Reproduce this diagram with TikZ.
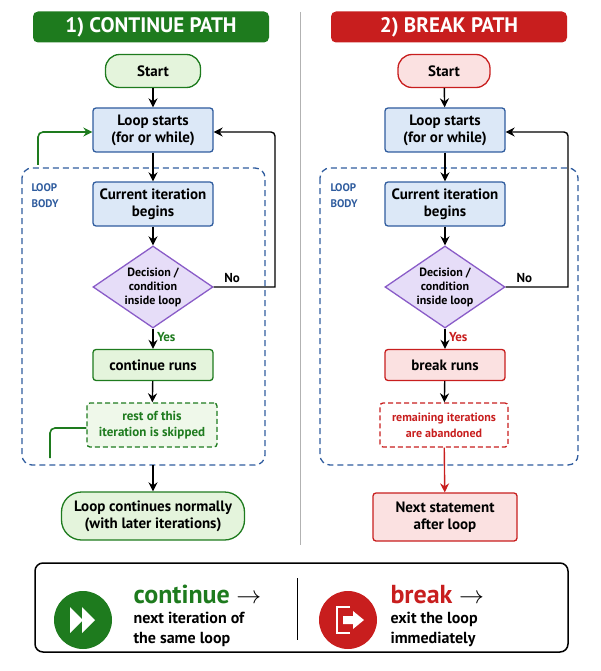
\documentclass[tikz,border=0pt]{standalone}
\usepackage{fontspec}
\setmainfont{PT Sans}
\usetikzlibrary{shapes.geometric,arrows.meta}
\definecolor{cgreen}{HTML}{1E7B1E}
\definecolor{lgreen}{HTML}{E4F4DC}
\definecolor{cred}{HTML}{C81E1E}
\definecolor{lred}{HTML}{FBE1E1}
\definecolor{cblue}{HTML}{2F5C9E}
\definecolor{lblue}{HTML}{DCE8F7}
\definecolor{lpurple}{HTML}{E6DDF8}
\definecolor{cpurple}{HTML}{8A5CC8}
\tikzset{
    % boxes of the two flowcharts
    flow box/.style={rectangle,rounded corners=3,draw,line width=1.3pt,align=center,font=\bfseries\fontsize{15}{17}\selectfont,minimum width=120,minimum height=44,inner sep=1},
    blue box/.style={flow box,draw=cblue,fill=lblue},
    start green/.style={flow box,draw=cgreen,fill=lgreen,rounded corners=14,minimum width=95,minimum height=33},
    start red/.style={flow box,draw=cred,fill=lred,rounded corners=14,minimum width=92,minimum height=33},
    decision/.style={diamond,aspect=1.45,draw=cpurple,fill=lpurple,line width=1.3pt,align=center,font=\bfseries\fontsize{12}{14}\selectfont,minimum width=120,minimum height=82,inner sep=0},
    title/.style={rounded corners=5,text=white,font=\bfseries\fontsize{21}{24}\selectfont,minimum width=236,minimum height=31},
    flow/.style={-{Stealth[length=9,width=9]},line width=1.4pt},
    body/.style={draw=cblue,dash pattern=on 6pt off 4pt,line width=1.3pt,rounded corners=10},
    dashed box/.style={dash pattern=on 5pt off 3pt}
    }
\begin{document}
\begin{tikzpicture}[x=1pt,y=-1pt]
    \useasboundingbox (0,0) rectangle (600,671);
    % titles and divider
    \node(t1)[title,fill=cgreen] at (151,27) {1) CONTINUE PATH};
    \node(t2)[title,fill=cred] at (449,27) {2) BREAK PATH};
    \draw[gray!60,line width=1pt] (300,12) -- (300,545);
    % continue path
    \draw[body] (22,168) rectangle (265,465);
    \node[text=cblue,align=left,anchor=north west,font=\bfseries\fontsize{11}{16}\selectfont] at (28,180) {LOOP\\BODY};
    \node(cs)[start green] at (153,71) {Start};
    \node(cl)[blue box] at (153,130) {Loop starts\\(for or while)};
    \node(ci)[blue box] at (153,204) {Current iteration\\begins};
    \node(cd)[decision] at (153,287) {Decision /\\condition\\inside loop};
    \node(cr)[flow box,draw=cgreen,fill=lgreen,minimum height=31] at (153,365) {continue runs};
    \node(ck)[flow box,draw=cgreen,fill=lgreen!60,dashed box,text=cgreen,minimum width=130,font=\bfseries\fontsize{13}{16}\selectfont] at (152,425) {rest of this\\iteration is skipped};
    \node(cn)[flow box,draw=cgreen,fill=lgreen,rounded corners=20,minimum width=183,minimum height=48] at (153,516) {Loop continues normally\\(with later iterations)};
    \coordinate(cb) at (153,465);
    \coordinate(gb) at (50,458);
    \coordinate(gt) at (38,165);
    \draw[flow] (cs) -- (cl);
    \draw[flow] (cl) -- (ci);
    \draw[flow] (ci) -- (cd);
    \draw[flow] (cd) -- node[right,pos=0.4,text=cgreen,font=\bfseries\fontsize{13}{15}\selectfont]{Yes} (cr);
    \draw[flow] (cr) -- (ck);
    \draw[flow] (cd.east) -- node[above,font=\bfseries\fontsize{13}{15}\selectfont,pos=0.3]{No} (275,287) [rounded corners=4]-- (275,132) -- (cl.east|-0,132);
    \draw[cgreen,line width=1.6pt,rounded corners=5] (gb) -- (50,428) -- (ck.west|-0,428);
    \draw[flow,cgreen,line width=1.6pt,rounded corners=5] (gt) -- (38,132) -- (cl.west|-0,132);
    \draw[flow] (cb) -- (cn);
    % break path
    \draw[body] (320,168) rectangle (578,465);
    \node[text=cblue,align=left,anchor=north west,font=\bfseries\fontsize{11}{16}\selectfont] at (327,180) {LOOP\\BODY};
    \node(bs)[start red] at (444,71) {Start};
    \node(bl)[blue box] at (445,130) {Loop starts\\(for or while)};
    \node(bi)[blue box] at (445,204) {Current iteration\\begins};
    \node(bd)[decision] at (445,287) {Decision /\\condition\\inside loop};
    \node(br)[flow box,draw=cred,fill=lred,minimum height=31] at (445,365) {break runs};
    \node(bk)[flow box,draw=cred,fill=white,dashed box,text=cred,minimum width=128,font=\bfseries\fontsize{12}{16}\selectfont] at (444,425) {remaining iterations\\are abandoned};
    \node(bn)[flow box,draw=cred,fill=lred,minimum width=144,minimum height=48] at (445,517) {Next statement\\after loop};
    \draw[flow] (bs) -- (bl);
    \draw[flow] (bl) -- (bi);
    \draw[flow] (bi) -- (bd);
    \draw[flow] (bd) -- node[right,pos=0.4,text=cred,font=\bfseries\fontsize{13}{15}\selectfont]{Yes} (br);
    \draw[flow] (br) -- (bk);
    \draw[flow] (bd.east) -- node[above,font=\bfseries\fontsize{13}{15}\selectfont,pos=0.3]{No} (568,287) [rounded corners=4]-- (568,132) -- (bl.east|-0,132);
    \draw[flow,cred] (bk) -- (bn);
    % summary box
    \node(sum)[draw,line width=1.5pt,rounded corners=8,minimum width=533,minimum height=89] at (301.5,607.5) {};
    \draw[line width=1pt] (297,578) -- (297,640);
    \node(gc)[circle,fill=cgreen,minimum size=58] at (83,620) {};
    \fill[white] (70,607) -- (83,620) -- (70,633) -- cycle (82,607) -- (95,620) -- (82,633) -- cycle;
    \node(rc)[circle,fill=cred,minimum size=58] at (348,620) {};
    \draw[white,line width=2.5pt] (350,607) -- (337,607) -- (337,633) -- (350,633);
    \fill[white] (343,616) -- (353,616) -- (353,611) -- (364,620) -- (353,629) -- (353,624) -- (343,624) -- cycle;
    \node(ct)[anchor=west,align=left,font=\bfseries\fontsize{16}{20}\selectfont] at (130,616) {{\fontsize{26}{26}\selectfont\textcolor{cgreen}{continue} $\rightarrow$}\\next iteration of\\the same loop};
    \node(bt)[anchor=west,align=left,font=\bfseries\fontsize{16}{20}\selectfont] at (387,616) {{\fontsize{26}{26}\selectfont\textcolor{cred}{break} $\rightarrow$}\\exit the loop\\immediately};
\end{tikzpicture}
\end{document}
